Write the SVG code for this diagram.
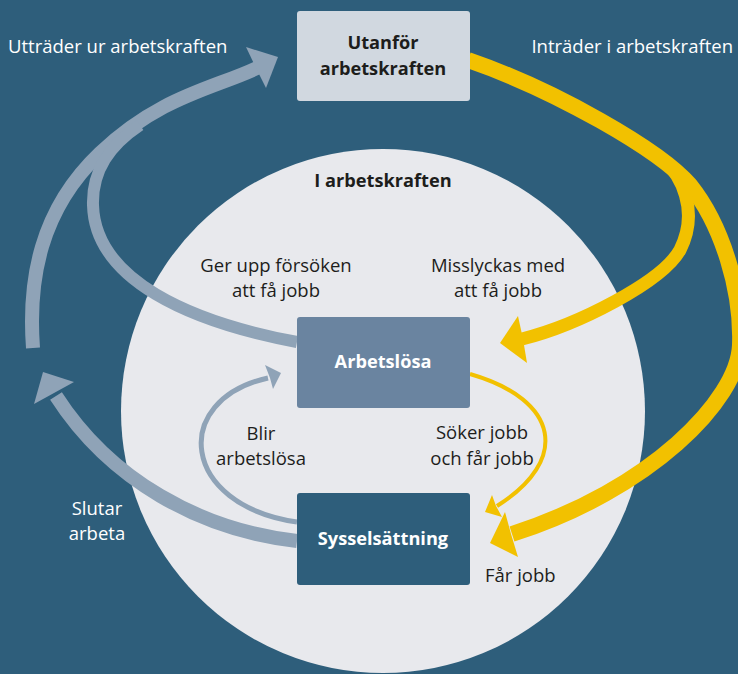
<svg xmlns="http://www.w3.org/2000/svg" width="738" height="674" viewBox="0 0 738 674">
<style>
.t{font-family:"Open Sans","Liberation Sans",sans-serif;font-size:18.5px;fill:#1d1d1b}
.w{fill:#ffffff}
.b{font-weight:bold;font-size:18.2px}
.m{text-anchor:middle}
.gr{fill:none;stroke:#8fa3b7}
.ye{fill:none;stroke:#f2c100}
.gh{fill:#8fa3b7}
.yh{fill:#f2c100}
</style>
<rect x="0" y="0" width="738" height="674" fill="#2e5e7b"/>
<g id="arbetskraften-area">
<circle cx="383" cy="411" r="262" fill="#e8e9ed"/>
<text class="t b m" x="383" y="187">I arbetskraften</text>
</g>
<g id="connectors">
<path class="gr" stroke-width="14" d="M33,348 C28,280 40,210 100,153 S215,88 257,68"/>
<path class="gr" stroke-width="12" d="M297,342 C190,322 95,280 93,205 C92,170 110,145 140,125"/>
<polygon class="gh" points="278,57 246,47 256,68 266,88"/>
<path class="gr" stroke-width="14" d="M297,541 C200,530 110,480 56,396"/>
<polygon class="gh" points="43,372 74,382 54,393 34,404"/>
<path class="gr" stroke-width="5" d="M297,522 C180,505 170,400 268,378"/>
<polygon class="gh" points="281,373 265,365 270,378 273,389"/>
<path class="ye" stroke-width="16" d="M468,60 C555,90 660,150 690,185 C722,225 742,290 740,345 C738,400 650,490 512,534"/>
<polygon class="yh" points="490,543 505,512 511,534 518,557"/>
<path class="ye" stroke-width="13" d="M664,161 C680,174 700,210 680,250 C662,282 578,325 522,339"/>
<polygon class="yh" points="500,343 518,316 523,339 527,363"/>
<path class="ye" stroke-width="4" d="M470,374 C560,400 570,460 497,506"/>
<polygon class="yh" points="485,512 492,495 496,506 502,517"/>
</g>
<g id="utanfor">
<rect x="297" y="11" width="173" height="90" rx="3" fill="#d1d8e0"/>
<text class="t b m" x="383" y="49">Utanför</text>
<text class="t b m" x="383" y="75">arbetskraften</text>
</g>
<g id="arbetslosa">
<rect x="297" y="317" width="173" height="91" rx="3" fill="#6a84a0"/>
<text class="t b m w" x="383" y="368">Arbetslösa</text>
</g>
<g id="sysselsattning">
<rect x="297" y="493" width="173" height="92" rx="3" fill="#2e5e7b"/>
<text class="t b m w" x="383" y="545">Sysselsättning</text>
</g>
<g id="labels">
<text class="t w" x="8" y="53">Utträder ur arbetskraften</text>
<text class="t w" x="733" y="53" text-anchor="end">Inträder i arbetskraften</text>
<text class="t m" x="276" y="272">Ger upp försöken</text>
<text class="t m" x="276" y="297">att få jobb</text>
<text class="t m" x="498" y="272">Misslyckas med</text>
<text class="t m" x="498" y="297">att få jobb</text>
<text class="t m" x="261" y="440">Blir</text>
<text class="t m" x="261" y="465">arbetslösa</text>
<text class="t m" x="482" y="439">Söker jobb</text>
<text class="t m" x="482" y="465">och får jobb</text>
<text class="t m w" x="97" y="515">Slutar</text>
<text class="t m w" x="97" y="540">arbeta</text>
<text class="t" x="485" y="582">Får jobb</text>
</g>
</svg>
